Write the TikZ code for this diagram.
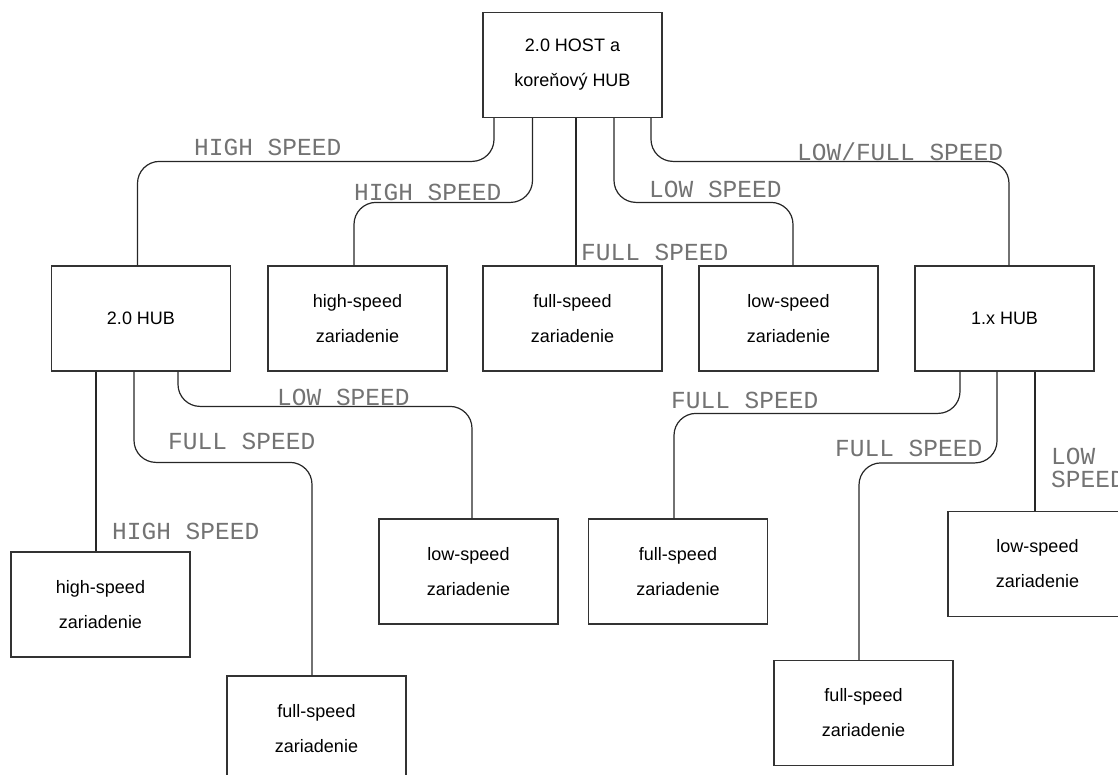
\documentclass[tikz,border=0pt]{standalone}
\usepackage{fontspec}
\setmainfont{Liberation Sans}
\newfontfamily\cadfont{Liberation Mono}

\begin{document}
\begin{tikzpicture}
            [x=1pt, y=-1pt,
            font=\fontsize{18}{35}\selectfont,
            % every node/.style={draw=black!75, thick},
            box/.style={draw=black!80, line width=1.2pt, minimum width=179pt,
                minimum height=105pt, inner sep=0pt, align=center},
            link/.style={draw=black!85, line width=1.2pt, rounded corners=22pt},
            speed/.style={anchor=base west, inner sep=0pt, text=black!55,
                font=\cadfont\fontsize{24.5}{23}\selectfont}]
            \useasboundingbox (0,0) rectangle (1118,774);
            % root
            \node [box] (host) at (572.5,65) {2.0 HOST a\\koreňový HUB};
            % second row
            \node [box] (hub2) at (141,318.5) {2.0 HUB};
            \node [box] (hsdev1) at (357.5,318.5) {high-speed\\zariadenie};
            \node [box] (fsdev1) at (572.5,318.5) {full-speed\\zariadenie};
            \node [box] (lsdev1) at (788.5,318.5) {low-speed\\zariadenie};
            \node [box] (hub1) at (1004.5,318.5) {1.x HUB};
            % below the hubs
            \node [box] (hsdev2) at (100.5,604.5) {high-speed\\zariadenie};
            \node [box] (lsdev2) at (468.5,571.5) {low-speed\\zariadenie};
            \node [box] (fsdev2) at (678,571.5) {full-speed\\zariadenie};
            \node [box] (lsdev3) at (1037.5,564) {low-speed\\zariadenie};
            \node [box] (fsdev3) at (316.5,728.5) {full-speed\\zariadenie};
            \node [box] (fsdev4) at (863.5,713) {full-speed\\zariadenie};
            % host links
            \draw [link] ([xshift=-78.5pt]host.south) |- ([xshift=-3.5pt, yshift=104pt]hub2.north) -- ([xshift=-3.5pt]hub2.north);
            \draw [link] ([xshift=-40pt]host.south) |- ([xshift=-3.5pt, yshift=63pt]hsdev1.north) -- ([xshift=-3.5pt]hsdev1.north);
            \draw [link] ([xshift=3.5pt]host.south) -- ([xshift=3.5pt]fsdev1.north);
            \draw [link] ([xshift=41.5pt]host.south) |- ([xshift=4.5pt, yshift=63pt]lsdev1.north) -- ([xshift=4.5pt]lsdev1.north);
            \draw [link] ([xshift=78.5pt]host.south) |- ([xshift=4.5pt, yshift=104pt]hub1.north) -- ([xshift=4.5pt]hub1.north);
            % 2.0 hub links
            \draw [link] ([xshift=-45pt]hub2.south) -- ([xshift=-4.5pt]hsdev2.north);
            \draw [link] ([xshift=-7pt]hub2.south) |- ([xshift=-4.5pt, yshift=213pt]fsdev3.north) -- ([xshift=-4.5pt]fsdev3.north);
            \draw [link] ([xshift=37pt]hub2.south) |- ([xshift=3.5pt, yshift=112pt]lsdev2.north) -- ([xshift=3.5pt]lsdev2.north);
            % 1.x hub links
            \draw [link] ([xshift=-44.5pt]hub1.south) |- ([xshift=-4pt, yshift=105pt]fsdev2.north) -- ([xshift=-4pt]fsdev2.north);
            \draw [link] ([xshift=-7.5pt]hub1.south) |- ([xshift=-4.5pt, yshift=197pt]fsdev4.north) -- ([xshift=-4.5pt]fsdev4.north);
            \draw [link] ([xshift=30.5pt]hub1.south) -- ([xshift=-2.5pt]lsdev3.north);
            % speed labels
            \node [speed] (hslab1) at (194,155) {HIGH SPEED};
            \node [speed] (hslab2) at (354,200) {HIGH SPEED};
            \node [speed] (fslab1) at (581,260) {FULL SPEED};
            \node [speed] (lslab1) at (649,197) {LOW SPEED};
            \node [speed] (lflab) at (797,160) {LOW/FULL SPEED};
            \node [speed] (hslab3) at (112,539) {HIGH SPEED};
            \node [speed] (fslab2) at (168,449) {FULL SPEED};
            \node [speed] (lslab2) at (277,405) {LOW SPEED};
            \node [speed] (fslab3) at (671,408) {FULL SPEED};
            \node [speed] (fslab4) at (835,456) {FULL SPEED};
            \node [speed, anchor=north west, align=left] (lslab3) at (1051,448) {LOW\\SPEED};
\end{tikzpicture}
\end{document}
